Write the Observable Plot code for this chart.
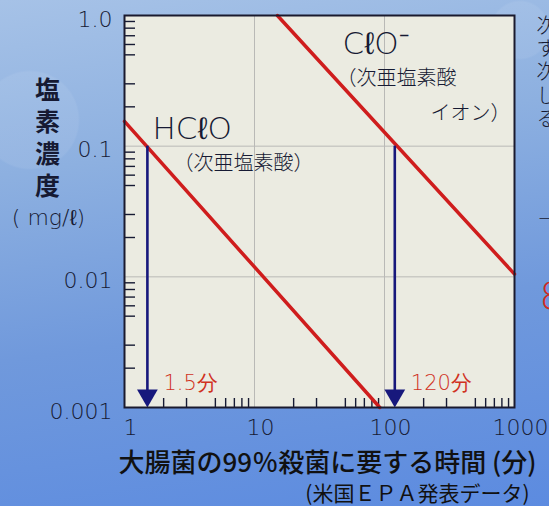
<!DOCTYPE html>
<html>
<head>
<meta charset="utf-8">
<script src="https://cdn.jsdelivr.net/npm/d3@7"></script>
<script src="https://cdn.jsdelivr.net/npm/@observablehq/plot@0.6"></script>
<style>
  html, body { margin: 0; padding: 0; }
  body {
    width: 549px; height: 506px; overflow: hidden;
    background:
      radial-gradient(circle at 30px 120px, rgba(255,255,255,0.07) 0 48px, rgba(255,255,255,0) 50px),
      radial-gradient(circle at 520px 30px, rgba(255,255,255,0.07) 0 28px, rgba(255,255,255,0) 30px),
      linear-gradient(172deg, #a6c2e7 0%, #8db0e0 30%, #7099dc 62%, #5c8be0 100%);
  }
  #chart svg { display: block; }
</style>
</head>
<body>
<div id="chart"></div>
<script>
// ---- data ----
const xTicks = [1, 10, 100, 1000];
const xTickLabels = ["1", "10", "100", "1000"];
const yTicks = [1, 0.1, 0.01, 0.001];
const yTickLabels = ["1.0", "0.1", "0.01", "0.001"];
const xGrid = [10, 100];
const yGrid = [0.1, 0.01];
const xMinor = [2, 3, 5, 6, 7, 8, 9, 20, 30, 50, 60, 70, 80, 90, 200, 300, 500, 600, 700, 800, 900];
const yMinor = [0.9, 0.8, 0.7, 0.6, 0.5, 0.3, 0.2,
                0.09, 0.08, 0.07, 0.06, 0.05, 0.03, 0.02,
                0.009, 0.008, 0.007, 0.006, 0.005, 0.003, 0.002];

// HClO (次亜塩素酸) line
const hcloTime = [1, 92];
const hcloConc = [0.155, 0.001];
// ClO- (次亜塩素酸イオン) line
const cloTime = [15, 1000];
const cloConc = [1.0, 0.0105];

// 99% kill times at 0.1 mg/l
const killTimes = [1.5, 120];
const killFrom = [0.1, 0.1];
const killTo = [0.001, 0.001];
const killLabels = ["1.5分", "120分"];

const xTitle = "大腸菌の99％殺菌に要する時間 (分)";
const yTitle = "塩\n素\n濃\n度";
const yUnit = "( mg/ℓ)";
const source = "(米国ＥＰＡ発表データ)";
const sideText = "次\nす\n次\nし\nる";

// ---- build tables ----
const hclo = hcloTime.map((t, i) => ({t, c: hcloConc[i]}));
const clo = cloTime.map((t, i) => ({t, c: cloConc[i]}));
const kills = killTimes.map((t, i) => ({t, from: killFrom[i], to: killTo[i], label: killLabels[i]}));

const W = 549, H = 506;
const mT = 15, mL = 124, mR = 35, mB = 99;
const pw = W - mL - mR, ph = H - mT - mB;

const RED = "#cf1d1d";
const NAVY = "#17187c";
const INK = "#161a33";
const NUM = "DejaVu Sans, sans-serif";
const JP = "'Noto Sans CJK JP', sans-serif";

const chart = Plot.plot({
  width: W, height: H,
  marginTop: mT, marginLeft: mL, marginRight: mR, marginBottom: mB,
  style: {background: "transparent", overflow: "visible"},
  x: {type: "log", domain: [1, 1000], axis: null},
  y: {type: "log", domain: [0.001, 1], axis: null},
  marks: [
    Plot.frame({fill: "#ebebe1", stroke: null}),
    Plot.ruleX(xGrid, {x: d => d, stroke: "#b9b9b6", strokeWidth: 1}),
    Plot.ruleY(yGrid, {y: d => d, stroke: "#b9b9b6", strokeWidth: 1}),
    Plot.tickY(yMinor, {y: d => d, stroke: INK, strokeWidth: 1.4, insetRight: pw - 11}),
    Plot.tickX(xMinor, {x: d => d, stroke: INK, strokeWidth: 1.4, insetTop: ph - 9}),
    Plot.line(hclo, {x: "t", y: "c", stroke: RED, strokeWidth: 3.5}),
    Plot.line(clo, {x: "t", y: "c", stroke: RED, strokeWidth: 3.5}),
    Plot.ruleX(kills, {x: "t", y1: "from", y2: "to", stroke: NAVY, strokeWidth: 2.6, insetBottom: 10}),
    Plot.dot(kills, {x: "t", y: "to", symbol: "triangle", r: 7.7, rotate: 180, fill: NAVY, stroke: null, dy: -12}),
    Plot.text(kills, {x: "t", text: "label", frameAnchor: "bottom", textAnchor: "start", lineAnchor: "middle",
      dx: 16, dy: -24, fontSize: 21, fill: "#d0321f", fontFamily: NUM, fontWeight: 200}),

    // tick labels
    Plot.text(yTicks, {y: d => d, text: (d, i) => yTickLabels[i], frameAnchor: "left", textAnchor: "end",
      lineAnchor: "middle", dx: -12, dy: 4, fontSize: 22, fill: INK, fontFamily: NUM, fontWeight: 200}),
    Plot.text(xTicks, {x: d => d, text: (d, i) => xTickLabels[i], frameAnchor: "bottom", textAnchor: "middle",
      lineAnchor: "middle", dx: 6, dy: 20, fontSize: 22, fill: INK, fontFamily: NUM, fontWeight: 200}),

    // annotations
    Plot.text(["HCℓO"], {frameAnchor: "top-left", textAnchor: "start", lineAnchor: "middle", dx: 28, dy: 114,
      fontSize: 31, fill: INK, fontFamily: NUM, fontWeight: 200}),
    Plot.text(["（次亜塩素酸）"], {frameAnchor: "top-left", textAnchor: "start", lineAnchor: "middle", dx: 49, dy: 148,
      fontSize: 20, fill: INK, fontFamily: JP, fontWeight: 300}),
    Plot.text(["CℓO⁻"], {frameAnchor: "top-left", textAnchor: "start", lineAnchor: "middle", dx: 218, dy: 29,
      fontSize: 31, fill: INK, fontFamily: NUM, fontWeight: 200}),
    Plot.text(["（次亜塩素酸"], {frameAnchor: "top-left", textAnchor: "start", lineAnchor: "middle", dx: 212, dy: 63,
      fontSize: 20, fill: INK, fontFamily: JP, fontWeight: 300}),
    Plot.text(["イオン）"], {frameAnchor: "top-left", textAnchor: "end", lineAnchor: "middle", dx: 386, dy: 98,
      fontSize: 20, fill: INK, fontFamily: JP, fontWeight: 300}),

    // axis titles
    Plot.text([yTitle], {frameAnchor: "top-left", textAnchor: "middle", lineAnchor: "middle", dx: -77, dy: 121.5,
      fontSize: 25, lineHeight: 1.28, fill: INK, fontFamily: JP, fontWeight: 700}),
    Plot.text([yUnit], {frameAnchor: "top-left", textAnchor: "middle", lineAnchor: "middle", dx: -76, dy: 202,
      fontSize: 22, fill: INK, fontFamily: NUM, fontWeight: 200}),
    Plot.text([xTitle], {frameAnchor: "bottom-left", textAnchor: "start", lineAnchor: "middle", dx: -6, dy: 56,
      fontSize: 26, fill: "#111", fontFamily: JP, fontWeight: 500}),
    Plot.text([source], {frameAnchor: "bottom-right", textAnchor: "end", lineAnchor: "middle", dx: 15, dy: 87,
      fontSize: 21, fill: "#111", fontFamily: JP, fontWeight: 400}),

    // fragments of the surrounding page text at the right edge
    Plot.text([sideText], {frameAnchor: "top-right", textAnchor: "start", lineAnchor: "middle", dx: 22, dy: 56.5,
      fontSize: 20, lineHeight: 1.165, fill: INK, fontFamily: JP, fontWeight: 300}),
    Plot.text(["─"], {frameAnchor: "top-right", textAnchor: "start", lineAnchor: "middle", dx: 25, dy: 204,
      fontSize: 20, fill: INK, fontFamily: JP, fontWeight: 500}),
    Plot.text(["8"], {frameAnchor: "top-right", textAnchor: "start", lineAnchor: "middle", dx: 25, dy: 281,
      fontSize: 38, fill: "#d02a20", fontFamily: NUM, fontWeight: 200}),

    Plot.frame({stroke: "#1a1a2e", strokeWidth: 2})
  ]
});
document.getElementById("chart").append(chart);
</script>
</body>
</html>
